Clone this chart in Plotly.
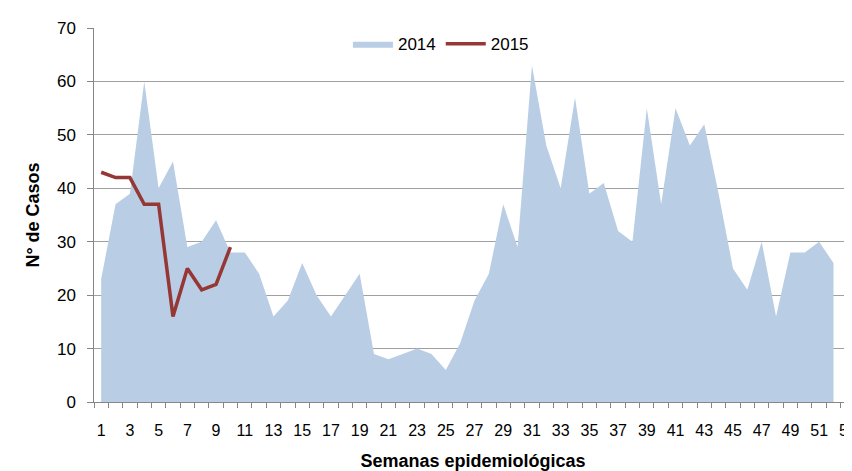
import plotly.graph_objects as go

weeks_2014 = list(range(1, 53))
cases_2014 = [23, 37, 39, 60, 40, 45, 29, 30, 34, 28,
              28, 24, 16, 19, 26, 20, 16, 20, 24, 9,
              8, 9, 10, 9, 6, 11, 19, 24, 37, 29,
              63, 48, 40, 57, 39, 41, 32, 30, 55, 37,
              55, 48, 52, 39, 25, 21, 30, 16, 28, 28,
              30, 26]
weeks_2015 = list(range(1, 11))
cases_2015 = [43, 42, 42, 37, 37, 16, 25, 21, 22, 29]
x_tick_vals = list(range(1, 54, 2))
x_tick_text = [str(v) for v in x_tick_vals]
y_tick_vals = list(range(0, 71, 10))

FONT = "Liberation Sans, Arial, sans-serif"

fig = go.Figure()
fig.add_trace(go.Scatter(
    x=weeks_2014, y=cases_2014, name="2014", mode="lines",
    fill="tozeroy", fillcolor="#B9CDE5", line=dict(width=0, color="#B9CDE5"),
))
# drawn on an overlaying y axis with the identical 0-70 scale (carries the labels)
fig.add_trace(go.Scatter(
    x=weeks_2015, y=cases_2015, name="2015", mode="lines", yaxis="y2",
    line=dict(width=3.5, color="#953735"),
))

# page body has an 8px default margin, so the figure is shifted by 8px
fig.update_layout(
    template="none",
    width=844, height=463,
    margin=dict(l=86, r=0, t=20, b=69),
    paper_bgcolor="white", plot_bgcolor="white",
    font=dict(family=FONT, size=17, color="black"),
    showlegend=True,
    legend=dict(orientation="h", x=0.335, xanchor="left", y=1.005, yanchor="top",
                bgcolor="rgba(0,0,0,0)", font=dict(size=17), itemwidth=40,
                tracegroupgap=0),
    xaxis=dict(
        range=[0.5, 53.29], tickmode="array", tickvals=x_tick_vals, ticktext=x_tick_text,
        ticks="", showgrid=False, zeroline=False,
        showline=True, linecolor="#868686", linewidth=1,
        ticklabelstandoff=14, ticklabeloverflow="allow",
        tickfont=dict(size=16),
        minor=dict(tick0=0.5, dtick=1, ticks="outside", ticklen=5, tickcolor="#868686", showgrid=False),
        title=dict(text="<b>Semanas epidemiológicas</b>", font=dict(size=18), standoff=18),
    ),
    yaxis=dict(
        range=[0, 70], tickmode="array", tickvals=y_tick_vals, ticks="outside", ticklen=6,
        tickcolor="#868686", showticklabels=False,
        showline=True, linecolor="#868686", linewidth=1,
        showgrid=True, gridcolor="#A0A0A0", gridwidth=1, zeroline=False,
    ),
    yaxis2=dict(
        overlaying="y", side="left", anchor="x", range=[0, 70],
        tickmode="array", tickvals=y_tick_vals, ticks="", showgrid=False,
        zeroline=False, showline=False, showticklabels=True,
        ticklabelstandoff=17, tickfont=dict(size=17),
        title=dict(text="<b>N° de Casos</b>", font=dict(size=18), standoff=12),
    ),
)

fig.write_html("out.html")
